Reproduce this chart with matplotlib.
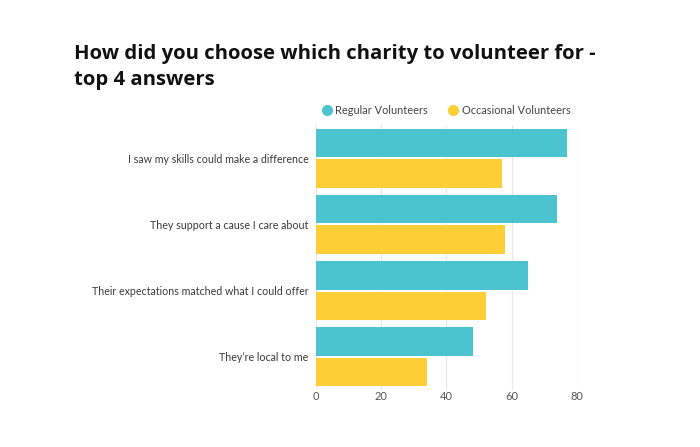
import numpy as np
import matplotlib.pyplot as plt
from matplotlib.lines import Line2D

categories = [
    "I saw my skills could make a difference",
    "They support a cause I care about",
    "Their expectations matched what I could offer",
    "They\u2019re local to me",
]
regular = [77, 74, 65, 48]
occasional = [57, 58, 52, 34]
series_names = ["Regular Volunteers", "Occasional Volunteers"]
xticks = [0, 20, 40, 60, 80]

TEAL = "#4cc4cf"
YELLOW = "#fdce36"

plt.rcParams["font.family"] = ["Lato", "DejaVu Sans"]

fig = plt.figure(figsize=(7, 4.47), dpi=100)
ax = fig.add_axes([0.4514, 0.1275, 0.3729, 0.593])

y = np.arange(len(categories))
h = 0.43
off = 0.231
ax.barh(y - off, regular, height=h, color=TEAL, linewidth=0, zorder=2)
ax.barh(y + off, occasional, height=h, color=YELLOW, linewidth=0, zorder=2)

ax.set_ylim(3.5, -0.5)
ax.set_xlim(0, 80)
ax.set_yticks(y)
ax.set_yticklabels(categories, fontsize=7.7, color="#3a3a3a")
ax.set_xticks(xticks)
ax.set_xticklabels([str(t) for t in xticks], fontsize=8, color="#555555")
ax.tick_params(axis="both", length=0)
ax.tick_params(axis="y", pad=5.5)
ax.tick_params(axis="x", pad=0.5)
ax.xaxis.grid(True, color="#e8e8e8", linewidth=0.8, zorder=0)
for s in ax.spines.values():
    s.set_visible(False)

handles = [
    Line2D([], [], marker="o", linestyle="", markersize=7, color=TEAL),
    Line2D([], [], marker="o", linestyle="", markersize=7, color=YELLOW),
]
fig.legend(handles, series_names, loc="center left", bbox_to_anchor=(0.444, 0.753),
           ncol=2, frameon=False, fontsize=7.9, labelcolor="#444444",
           handletextpad=0.15, columnspacing=1.7, handlelength=1.2)

fig.text(0.105, 0.902, "How did you choose which charity to volunteer for -\ntop 4 answers",
         fontsize=14.6, fontweight="bold", color="#111111", va="top", ha="left",
         linespacing=1.4, family=["Open Sans", "DejaVu Sans"])

fig.savefig("out.png", dpi=100, facecolor="white")
